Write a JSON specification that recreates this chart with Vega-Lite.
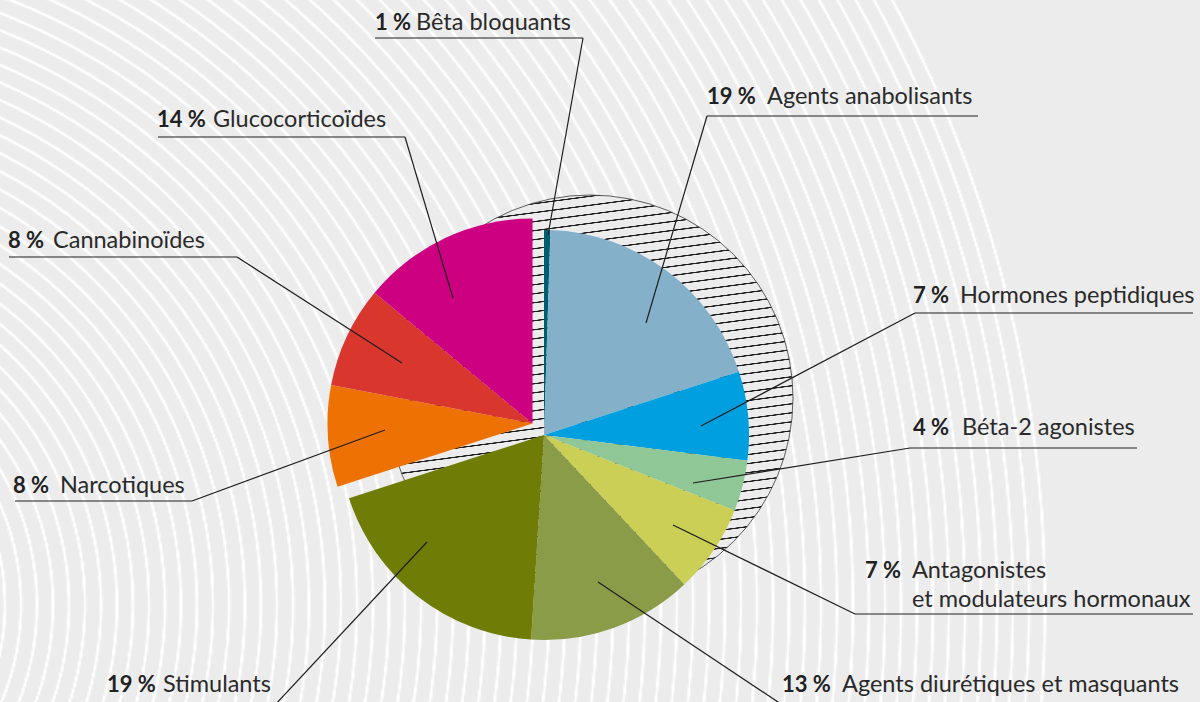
{
  "$schema": "https://vega.github.io/schema/vega-lite/v6.json",
  "width": 1200,
  "height": 702,
  "autosize": "none",
  "padding": 0,
  "background": "#ececec",
  "config": {"view": {"stroke": null}},
  "datasets": {
    "shares": [
      {"category": "Bêta bloquants", "share": 0.5},
      {"category": "Agents anabolisants", "share": 19.5},
      {"category": "Hormones peptidiques", "share": 7},
      {"category": "Béta-2 agonistes", "share": 4},
      {"category": "Antagonistes et modulateurs hormonaux", "share": 7},
      {"category": "Agents diurétiques et masquants", "share": 13},
      {"category": "Stimulants", "share": 19},
      {"category": "Narcotiques", "share": 8},
      {"category": "Cannabinoïdes", "share": 8},
      {"category": "Glucocorticoïdes", "share": 14}
    ],
    "callouts": [
      {"pct": "1 %", "name": "Bêta bloquants", "nx": -169, "tx": -128, "ty": 405, "ux1": -169, "ux2": 39, "uy": 397, "lx1": 39, "ly1": 397, "lx2": 4, "ly2": 200},
      {"pct": "19 %", "name": "Agents anabolisants", "nx": 163, "tx": 223, "ty": 331, "ux1": 163, "ux2": 434, "uy": 319, "lx1": 163, "ly1": 319, "lx2": 102, "ly2": 112},
      {"pct": "14 %", "name": "Glucocorticoïdes", "nx": -387, "tx": -331, "ty": 308, "ux1": -386, "ux2": -139, "uy": 298, "lx1": -139, "ly1": 298, "lx2": -91, "ly2": 137},
      {"pct": "8 %", "name": "Cannabinoïdes", "nx": -536, "tx": -491, "ty": 187, "ux1": -535, "ux2": -307, "uy": 178, "lx1": -307, "ly1": 178, "lx2": -142, "ly2": 72},
      {"pct": "8 %", "name": "Narcotiques", "nx": -531, "tx": -484, "ty": -58, "ux1": -529, "ux2": -352, "uy": -66, "lx1": -352, "ly1": -66, "lx2": -159, "ly2": 5},
      {"pct": "19 %", "name": "Stimulants", "nx": -437, "tx": -381, "ty": -257, "ux1": -437, "ux2": -270, "uy": -271, "lx1": -270, "ly1": -271, "lx2": -117, "ly2": -107},
      {"pct": "13 %", "name": "Agents diurétiques et masquants", "nx": 238, "tx": 298, "ty": -257, "ux1": 240, "ux2": 633, "uy": -271, "lx1": 240, "ly1": -271, "lx2": 54, "ly2": -147},
      {"pct": "7 %", "name": "Antagonistes", "name2": "et modulateurs hormonaux", "ty2": -172, "nx": 321, "tx": 368, "ty": -143, "ux1": 311, "ux2": 649, "uy": -179, "lx1": 311, "ly1": -179, "lx2": 129, "ly2": -90},
      {"pct": "4 %", "name": "Béta-2 agonistes", "nx": 369, "tx": 418, "ty": 0, "ux1": 366, "ux2": 593, "uy": -13, "lx1": 366, "ly1": -13, "lx2": 149, "ly2": -48},
      {"pct": "7 %", "name": "Hormones peptidiques", "nx": 369, "tx": 416, "ty": 132, "ux1": 371, "ux2": 649, "uy": 122, "lx1": 371, "ly1": 122, "lx2": 157, "ly2": 9}
    ]
  },
  "layer": [
    {
      "data": {"values": [{}]},
      "mark": {
        "type": "arc", "outerRadius": 1600, "theta": 0, "theta2": 6.2832, "clip": true,
        "fill": {
          "gradient": "radial", "x1": 0.5, "y1": 0.5, "r1": 0, "x2": 0.5, "y2": 0.5, "r2": 0.5,
          "stops": [
            {"offset":0,"color":"#ececec"},
            {"offset":0.1458,"color":"#ececec"},{"offset":0.1463,"color":"#fff"},{"offset":0.1474,"color":"#fff"},{"offset":0.1479,"color":"#ececec"},
            {"offset":0.1558,"color":"#ececec"},{"offset":0.1563,"color":"#fff"},{"offset":0.1574,"color":"#fff"},{"offset":0.1579,"color":"#ececec"},
            {"offset":0.1658,"color":"#ececec"},{"offset":0.1663,"color":"#fff"},{"offset":0.1674,"color":"#fff"},{"offset":0.1679,"color":"#ececec"},
            {"offset":0.1758,"color":"#ececec"},{"offset":0.1763,"color":"#fff"},{"offset":0.1774,"color":"#fff"},{"offset":0.1779,"color":"#ececec"},
            {"offset":0.1858,"color":"#ececec"},{"offset":0.1863,"color":"#fff"},{"offset":0.1874,"color":"#fff"},{"offset":0.1879,"color":"#ececec"},
            {"offset":0.1958,"color":"#ececec"},{"offset":0.1963,"color":"#fff"},{"offset":0.1974,"color":"#fff"},{"offset":0.1979,"color":"#ececec"},
            {"offset":0.2058,"color":"#ececec"},{"offset":0.2063,"color":"#fff"},{"offset":0.2074,"color":"#fff"},{"offset":0.2079,"color":"#ececec"},
            {"offset":0.2158,"color":"#ececec"},{"offset":0.2163,"color":"#fff"},{"offset":0.2174,"color":"#fff"},{"offset":0.2179,"color":"#ececec"},
            {"offset":0.2258,"color":"#ececec"},{"offset":0.2263,"color":"#fff"},{"offset":0.2274,"color":"#fff"},{"offset":0.2279,"color":"#ececec"},
            {"offset":0.2358,"color":"#ececec"},{"offset":0.2363,"color":"#fff"},{"offset":0.2374,"color":"#fff"},{"offset":0.2379,"color":"#ececec"},
            {"offset":0.2458,"color":"#ececec"},{"offset":0.2463,"color":"#fff"},{"offset":0.2474,"color":"#fff"},{"offset":0.2479,"color":"#ececec"},
            {"offset":0.2558,"color":"#ececec"},{"offset":0.2563,"color":"#fff"},{"offset":0.2574,"color":"#fff"},{"offset":0.2579,"color":"#ececec"},
            {"offset":0.2658,"color":"#ececec"},{"offset":0.2663,"color":"#fff"},{"offset":0.2674,"color":"#fff"},{"offset":0.2679,"color":"#ececec"},
            {"offset":0.2758,"color":"#ececec"},{"offset":0.2763,"color":"#fff"},{"offset":0.2774,"color":"#fff"},{"offset":0.2779,"color":"#ececec"},
            {"offset":0.2858,"color":"#ececec"},{"offset":0.2863,"color":"#fff"},{"offset":0.2874,"color":"#fff"},{"offset":0.2879,"color":"#ececec"},
            {"offset":0.2958,"color":"#ececec"},{"offset":0.2963,"color":"#fff"},{"offset":0.2974,"color":"#fff"},{"offset":0.2979,"color":"#ececec"},
            {"offset":0.3058,"color":"#ececec"},{"offset":0.3063,"color":"#fff"},{"offset":0.3074,"color":"#fff"},{"offset":0.3079,"color":"#ececec"},
            {"offset":0.3158,"color":"#ececec"},{"offset":0.3163,"color":"#fff"},{"offset":0.3174,"color":"#fff"},{"offset":0.3179,"color":"#ececec"},
            {"offset":0.3258,"color":"#ececec"},{"offset":0.3263,"color":"#fff"},{"offset":0.3274,"color":"#fff"},{"offset":0.3279,"color":"#ececec"},
            {"offset":0.3358,"color":"#ececec"},{"offset":0.3363,"color":"#fff"},{"offset":0.3374,"color":"#fff"},{"offset":0.3379,"color":"#ececec"},
            {"offset":0.3458,"color":"#ececec"},{"offset":0.3463,"color":"#fff"},{"offset":0.3474,"color":"#fff"},{"offset":0.3479,"color":"#ececec"},
            {"offset":0.3558,"color":"#ececec"},{"offset":0.3563,"color":"#fff"},{"offset":0.3574,"color":"#fff"},{"offset":0.3579,"color":"#ececec"},
            {"offset":0.3658,"color":"#ececec"},{"offset":0.3663,"color":"#fff"},{"offset":0.3674,"color":"#fff"},{"offset":0.3679,"color":"#ececec"},
            {"offset":0.3758,"color":"#ececec"},{"offset":0.3763,"color":"#fff"},{"offset":0.3774,"color":"#fff"},{"offset":0.3779,"color":"#ececec"},
            {"offset":0.3858,"color":"#ececec"},{"offset":0.3863,"color":"#fff"},{"offset":0.3874,"color":"#fff"},{"offset":0.3879,"color":"#ececec"},
            {"offset":0.3958,"color":"#ececec"},{"offset":0.3963,"color":"#fff"},{"offset":0.3974,"color":"#fff"},{"offset":0.3979,"color":"#ececec"},
            {"offset":0.4058,"color":"#ececec"},{"offset":0.4063,"color":"#fff"},{"offset":0.4074,"color":"#fff"},{"offset":0.4079,"color":"#ececec"},
            {"offset":0.4158,"color":"#ececec"},{"offset":0.4163,"color":"#fff"},{"offset":0.4174,"color":"#fff"},{"offset":0.4179,"color":"#ececec"},
            {"offset":0.4258,"color":"#ececec"},{"offset":0.4263,"color":"#fff"},{"offset":0.4274,"color":"#fff"},{"offset":0.4279,"color":"#ececec"},
            {"offset":0.4358,"color":"#ececec"},{"offset":0.4363,"color":"#fff"},{"offset":0.4374,"color":"#fff"},{"offset":0.4379,"color":"#ececec"},
            {"offset":0.4458,"color":"#ececec"},{"offset":0.4463,"color":"#fff"},{"offset":0.4474,"color":"#fff"},{"offset":0.4479,"color":"#ececec"},
            {"offset":0.4558,"color":"#ececec"},{"offset":0.4563,"color":"#fff"},{"offset":0.4574,"color":"#fff"},{"offset":0.4579,"color":"#ececec"},
            {"offset":0.4658,"color":"#ececec"},{"offset":0.4663,"color":"#fff"},{"offset":0.4674,"color":"#fff"},{"offset":0.4679,"color":"#ececec"},
            {"offset":0.4758,"color":"#ececec"},{"offset":0.4763,"color":"#fff"},{"offset":0.4774,"color":"#fff"},{"offset":0.4779,"color":"#ececec"},
            {"offset":0.4858,"color":"#ececec"},{"offset":0.4863,"color":"#fff"},{"offset":0.4874,"color":"#fff"},{"offset":0.4879,"color":"#ececec"},
            {"offset":0.4958,"color":"#ececec"},{"offset":0.4963,"color":"#fff"},{"offset":0.4974,"color":"#fff"},{"offset":0.4979,"color":"#ececec"},
            {"offset":0.5058,"color":"#ececec"},{"offset":0.5063,"color":"#fff"},{"offset":0.5074,"color":"#fff"},{"offset":0.5079,"color":"#ececec"},
            {"offset":0.5158,"color":"#ececec"},{"offset":0.5163,"color":"#fff"},{"offset":0.5174,"color":"#fff"},{"offset":0.5179,"color":"#ececec"},
            {"offset":0.5258,"color":"#ececec"},{"offset":0.5263,"color":"#fff"},{"offset":0.5274,"color":"#fff"},{"offset":0.5279,"color":"#ececec"},
            {"offset":0.5358,"color":"#ececec"},{"offset":0.5363,"color":"#fff"},{"offset":0.5374,"color":"#fff"},{"offset":0.5379,"color":"#ececec"},
            {"offset":0.5458,"color":"#ececec"},{"offset":0.5463,"color":"#fff"},{"offset":0.5474,"color":"#fff"},{"offset":0.5479,"color":"#ececec"},
            {"offset":0.5558,"color":"#ececec"},{"offset":0.5563,"color":"#fff"},{"offset":0.5574,"color":"#fff"},{"offset":0.5579,"color":"#ececec"},
            {"offset":0.5658,"color":"#ececec"},{"offset":0.5663,"color":"#fff"},{"offset":0.5674,"color":"#fff"},{"offset":0.5679,"color":"#ececec"},
            {"offset":0.5758,"color":"#ececec"},{"offset":0.5763,"color":"#fff"},{"offset":0.5774,"color":"#fff"},{"offset":0.5779,"color":"#ececec"},
            {"offset":0.5858,"color":"#ececec"},{"offset":0.5863,"color":"#fff"},{"offset":0.5874,"color":"#fff"},{"offset":0.5879,"color":"#ececec"},
            {"offset":0.5958,"color":"#ececec"},{"offset":0.5963,"color":"#fff"},{"offset":0.5974,"color":"#fff"},{"offset":0.5979,"color":"#ececec"},
            {"offset":0.6058,"color":"#ececec"},{"offset":0.6063,"color":"#fff"},{"offset":0.6074,"color":"#fff"},{"offset":0.6079,"color":"#ececec"},
            {"offset":0.6158,"color":"#ececec"},{"offset":0.6163,"color":"#fff"},{"offset":0.6174,"color":"#fff"},{"offset":0.6179,"color":"#ececec"},
            {"offset":0.6258,"color":"#ececec"},{"offset":0.6263,"color":"#fff"},{"offset":0.6274,"color":"#fff"},{"offset":0.6279,"color":"#ececec"},
            {"offset":0.6358,"color":"#ececec"},{"offset":0.6363,"color":"#fff"},{"offset":0.6374,"color":"#fff"},{"offset":0.6379,"color":"#ececec"},
            {"offset":0.6458,"color":"#ececec"},{"offset":0.6463,"color":"#fff"},{"offset":0.6474,"color":"#fff"},{"offset":0.6479,"color":"#ececec"},
            {"offset":0.6558,"color":"#ececec"},{"offset":0.6563,"color":"#fff"},{"offset":0.6574,"color":"#fff"},{"offset":0.6579,"color":"#ececec"},
            {"offset":0.6658,"color":"#ececec"},{"offset":0.6663,"color":"#fff"},{"offset":0.6674,"color":"#fff"},{"offset":0.6679,"color":"#ececec"},
            {"offset":0.6758,"color":"#ececec"},{"offset":0.6763,"color":"#fff"},{"offset":0.6774,"color":"#fff"},{"offset":0.6779,"color":"#ececec"},
            {"offset":0.6858,"color":"#ececec"},{"offset":0.6863,"color":"#fff"},{"offset":0.6874,"color":"#fff"},{"offset":0.6879,"color":"#ececec"},
            {"offset":0.6958,"color":"#ececec"},{"offset":0.6963,"color":"#fff"},{"offset":0.6974,"color":"#fff"},{"offset":0.6979,"color":"#ececec"},
            {"offset":0.7058,"color":"#ececec"},{"offset":0.7063,"color":"#fff"},{"offset":0.7074,"color":"#fff"},{"offset":0.7079,"color":"#ececec"},
            {"offset":0.7158,"color":"#ececec"},{"offset":0.7163,"color":"#fff"},{"offset":0.7174,"color":"#fff"},{"offset":0.7179,"color":"#ececec"},
            {"offset":0.7258,"color":"#ececec"},{"offset":0.7263,"color":"#fff"},{"offset":0.7274,"color":"#fff"},{"offset":0.7279,"color":"#ececec"},
            {"offset":0.7358,"color":"#ececec"},{"offset":0.7363,"color":"#fff"},{"offset":0.7374,"color":"#fff"},{"offset":0.7379,"color":"#ececec"},
            {"offset":0.7458,"color":"#ececec"},{"offset":0.7463,"color":"#fff"},{"offset":0.7474,"color":"#fff"},{"offset":0.7479,"color":"#ececec"},
            {"offset":0.7558,"color":"#ececec"},{"offset":0.7563,"color":"#fff"},{"offset":0.7574,"color":"#fff"},{"offset":0.7579,"color":"#ececec"},
            {"offset":0.7658,"color":"#ececec"},{"offset":0.7663,"color":"#fff"},{"offset":0.7674,"color":"#fff"},{"offset":0.7679,"color":"#ececec"},
            {"offset":0.7758,"color":"#ececec"},{"offset":0.7763,"color":"#fff"},{"offset":0.7774,"color":"#fff"},{"offset":0.7779,"color":"#ececec"},
            {"offset":0.7858,"color":"#ececec"},{"offset":0.7863,"color":"#fff"},{"offset":0.7874,"color":"#fff"},{"offset":0.7879,"color":"#ececec"},
            {"offset":0.7958,"color":"#ececec"},{"offset":0.7963,"color":"#fff"},{"offset":0.7974,"color":"#fff"},{"offset":0.7979,"color":"#ececec"},
            {"offset":1,"color":"#ececec"}
          ]
        }
      },
      "encoding": {
        "x": {"datum": -774, "type": "quantitative", "scale": {"domain": [-544, 656], "nice": false, "zero": false}, "axis": null},
        "y": {"datum": -170, "type": "quantitative", "scale": {"domain": [-267, 435], "nice": false, "zero": false}, "axis": null}
      }
    },
    {
      "data": {"values": [{}]},
      "mark": {
        "type": "arc", "outerRadius": 203, "theta": 0, "theta2": 6.2832,
        "stroke": "#3a3a3a", "strokeWidth": 0.8,
        "fill": {
          "gradient": "linear", "x1": 0.428, "y1": -0.045, "x2": 0.572, "y2": 1.045,
          "stops": [
            {"offset":0,"color":"#ececec"},
            {"offset":0.01,"color":"#ececec"},{"offset":0.011,"color":"#1f1f1f"},{"offset":0.013,"color":"#1f1f1f"},{"offset":0.014,"color":"#ececec"},
            {"offset":0.03,"color":"#ececec"},{"offset":0.031,"color":"#1f1f1f"},{"offset":0.033,"color":"#1f1f1f"},{"offset":0.034,"color":"#ececec"},
            {"offset":0.05,"color":"#ececec"},{"offset":0.051,"color":"#1f1f1f"},{"offset":0.053,"color":"#1f1f1f"},{"offset":0.054,"color":"#ececec"},
            {"offset":0.07,"color":"#ececec"},{"offset":0.071,"color":"#1f1f1f"},{"offset":0.073,"color":"#1f1f1f"},{"offset":0.074,"color":"#ececec"},
            {"offset":0.09,"color":"#ececec"},{"offset":0.091,"color":"#1f1f1f"},{"offset":0.093,"color":"#1f1f1f"},{"offset":0.094,"color":"#ececec"},
            {"offset":0.11,"color":"#ececec"},{"offset":0.111,"color":"#1f1f1f"},{"offset":0.113,"color":"#1f1f1f"},{"offset":0.114,"color":"#ececec"},
            {"offset":0.13,"color":"#ececec"},{"offset":0.131,"color":"#1f1f1f"},{"offset":0.133,"color":"#1f1f1f"},{"offset":0.134,"color":"#ececec"},
            {"offset":0.15,"color":"#ececec"},{"offset":0.151,"color":"#1f1f1f"},{"offset":0.153,"color":"#1f1f1f"},{"offset":0.154,"color":"#ececec"},
            {"offset":0.17,"color":"#ececec"},{"offset":0.171,"color":"#1f1f1f"},{"offset":0.173,"color":"#1f1f1f"},{"offset":0.174,"color":"#ececec"},
            {"offset":0.19,"color":"#ececec"},{"offset":0.191,"color":"#1f1f1f"},{"offset":0.193,"color":"#1f1f1f"},{"offset":0.194,"color":"#ececec"},
            {"offset":0.21,"color":"#ececec"},{"offset":0.211,"color":"#1f1f1f"},{"offset":0.213,"color":"#1f1f1f"},{"offset":0.214,"color":"#ececec"},
            {"offset":0.23,"color":"#ececec"},{"offset":0.231,"color":"#1f1f1f"},{"offset":0.233,"color":"#1f1f1f"},{"offset":0.234,"color":"#ececec"},
            {"offset":0.25,"color":"#ececec"},{"offset":0.251,"color":"#1f1f1f"},{"offset":0.253,"color":"#1f1f1f"},{"offset":0.254,"color":"#ececec"},
            {"offset":0.27,"color":"#ececec"},{"offset":0.271,"color":"#1f1f1f"},{"offset":0.273,"color":"#1f1f1f"},{"offset":0.274,"color":"#ececec"},
            {"offset":0.29,"color":"#ececec"},{"offset":0.291,"color":"#1f1f1f"},{"offset":0.293,"color":"#1f1f1f"},{"offset":0.294,"color":"#ececec"},
            {"offset":0.31,"color":"#ececec"},{"offset":0.311,"color":"#1f1f1f"},{"offset":0.313,"color":"#1f1f1f"},{"offset":0.314,"color":"#ececec"},
            {"offset":0.33,"color":"#ececec"},{"offset":0.331,"color":"#1f1f1f"},{"offset":0.333,"color":"#1f1f1f"},{"offset":0.334,"color":"#ececec"},
            {"offset":0.35,"color":"#ececec"},{"offset":0.351,"color":"#1f1f1f"},{"offset":0.353,"color":"#1f1f1f"},{"offset":0.354,"color":"#ececec"},
            {"offset":0.37,"color":"#ececec"},{"offset":0.371,"color":"#1f1f1f"},{"offset":0.373,"color":"#1f1f1f"},{"offset":0.374,"color":"#ececec"},
            {"offset":0.39,"color":"#ececec"},{"offset":0.391,"color":"#1f1f1f"},{"offset":0.393,"color":"#1f1f1f"},{"offset":0.394,"color":"#ececec"},
            {"offset":0.41,"color":"#ececec"},{"offset":0.411,"color":"#1f1f1f"},{"offset":0.413,"color":"#1f1f1f"},{"offset":0.414,"color":"#ececec"},
            {"offset":0.43,"color":"#ececec"},{"offset":0.431,"color":"#1f1f1f"},{"offset":0.433,"color":"#1f1f1f"},{"offset":0.434,"color":"#ececec"},
            {"offset":0.45,"color":"#ececec"},{"offset":0.451,"color":"#1f1f1f"},{"offset":0.453,"color":"#1f1f1f"},{"offset":0.454,"color":"#ececec"},
            {"offset":0.47,"color":"#ececec"},{"offset":0.471,"color":"#1f1f1f"},{"offset":0.473,"color":"#1f1f1f"},{"offset":0.474,"color":"#ececec"},
            {"offset":0.49,"color":"#ececec"},{"offset":0.491,"color":"#1f1f1f"},{"offset":0.493,"color":"#1f1f1f"},{"offset":0.494,"color":"#ececec"},
            {"offset":0.51,"color":"#ececec"},{"offset":0.511,"color":"#1f1f1f"},{"offset":0.513,"color":"#1f1f1f"},{"offset":0.514,"color":"#ececec"},
            {"offset":0.53,"color":"#ececec"},{"offset":0.531,"color":"#1f1f1f"},{"offset":0.533,"color":"#1f1f1f"},{"offset":0.534,"color":"#ececec"},
            {"offset":0.55,"color":"#ececec"},{"offset":0.551,"color":"#1f1f1f"},{"offset":0.553,"color":"#1f1f1f"},{"offset":0.554,"color":"#ececec"},
            {"offset":0.57,"color":"#ececec"},{"offset":0.571,"color":"#1f1f1f"},{"offset":0.573,"color":"#1f1f1f"},{"offset":0.574,"color":"#ececec"},
            {"offset":0.59,"color":"#ececec"},{"offset":0.591,"color":"#1f1f1f"},{"offset":0.593,"color":"#1f1f1f"},{"offset":0.594,"color":"#ececec"},
            {"offset":0.61,"color":"#ececec"},{"offset":0.611,"color":"#1f1f1f"},{"offset":0.613,"color":"#1f1f1f"},{"offset":0.614,"color":"#ececec"},
            {"offset":0.63,"color":"#ececec"},{"offset":0.631,"color":"#1f1f1f"},{"offset":0.633,"color":"#1f1f1f"},{"offset":0.634,"color":"#ececec"},
            {"offset":0.65,"color":"#ececec"},{"offset":0.651,"color":"#1f1f1f"},{"offset":0.653,"color":"#1f1f1f"},{"offset":0.654,"color":"#ececec"},
            {"offset":0.67,"color":"#ececec"},{"offset":0.671,"color":"#1f1f1f"},{"offset":0.673,"color":"#1f1f1f"},{"offset":0.674,"color":"#ececec"},
            {"offset":0.69,"color":"#ececec"},{"offset":0.691,"color":"#1f1f1f"},{"offset":0.693,"color":"#1f1f1f"},{"offset":0.694,"color":"#ececec"},
            {"offset":0.71,"color":"#ececec"},{"offset":0.711,"color":"#1f1f1f"},{"offset":0.713,"color":"#1f1f1f"},{"offset":0.714,"color":"#ececec"},
            {"offset":0.73,"color":"#ececec"},{"offset":0.731,"color":"#1f1f1f"},{"offset":0.733,"color":"#1f1f1f"},{"offset":0.734,"color":"#ececec"},
            {"offset":0.75,"color":"#ececec"},{"offset":0.751,"color":"#1f1f1f"},{"offset":0.753,"color":"#1f1f1f"},{"offset":0.754,"color":"#ececec"},
            {"offset":0.77,"color":"#ececec"},{"offset":0.771,"color":"#1f1f1f"},{"offset":0.773,"color":"#1f1f1f"},{"offset":0.774,"color":"#ececec"},
            {"offset":0.79,"color":"#ececec"},{"offset":0.791,"color":"#1f1f1f"},{"offset":0.793,"color":"#1f1f1f"},{"offset":0.794,"color":"#ececec"},
            {"offset":0.81,"color":"#ececec"},{"offset":0.811,"color":"#1f1f1f"},{"offset":0.813,"color":"#1f1f1f"},{"offset":0.814,"color":"#ececec"},
            {"offset":0.83,"color":"#ececec"},{"offset":0.831,"color":"#1f1f1f"},{"offset":0.833,"color":"#1f1f1f"},{"offset":0.834,"color":"#ececec"},
            {"offset":0.85,"color":"#ececec"},{"offset":0.851,"color":"#1f1f1f"},{"offset":0.853,"color":"#1f1f1f"},{"offset":0.854,"color":"#ececec"},
            {"offset":0.87,"color":"#ececec"},{"offset":0.871,"color":"#1f1f1f"},{"offset":0.873,"color":"#1f1f1f"},{"offset":0.874,"color":"#ececec"},
            {"offset":0.89,"color":"#ececec"},{"offset":0.891,"color":"#1f1f1f"},{"offset":0.893,"color":"#1f1f1f"},{"offset":0.894,"color":"#ececec"},
            {"offset":0.91,"color":"#ececec"},{"offset":0.911,"color":"#1f1f1f"},{"offset":0.913,"color":"#1f1f1f"},{"offset":0.914,"color":"#ececec"},
            {"offset":0.93,"color":"#ececec"},{"offset":0.931,"color":"#1f1f1f"},{"offset":0.933,"color":"#1f1f1f"},{"offset":0.934,"color":"#ececec"},
            {"offset":0.95,"color":"#ececec"},{"offset":0.951,"color":"#1f1f1f"},{"offset":0.953,"color":"#1f1f1f"},{"offset":0.954,"color":"#ececec"},
            {"offset":0.97,"color":"#ececec"},{"offset":0.971,"color":"#1f1f1f"},{"offset":0.973,"color":"#1f1f1f"},{"offset":0.974,"color":"#ececec"},
            {"offset":0.99,"color":"#ececec"},{"offset":0.991,"color":"#1f1f1f"},{"offset":0.993,"color":"#1f1f1f"},{"offset":0.994,"color":"#ececec"},
            {"offset":1,"color":"#ececec"}
          ]
        }
      },
      "encoding": {
        "x": {"datum": 46, "type": "quantitative", "scale": {"domain": [-544, 656], "nice": false, "zero": false}, "axis": null},
        "y": {"datum": 37, "type": "quantitative", "scale": {"domain": [-267, 435], "nice": false, "zero": false}, "axis": null}
      }
    },
    {
      "data": {"name": "shares"},
      "transform": [
        {"stack": "share", "groupby": [], "as": ["t0", "t1"]},
        {"filter": {"not": {"field": "category", "oneOf": ["Narcotiques", "Cannabinoïdes", "Glucocorticoïdes"]}}}
      ],
      "mark": {"type": "arc", "outerRadius": 205, "stroke": null},
      "encoding": {
        "x": {"datum": 0, "type": "quantitative", "scale": {"domain": [-544, 656], "nice": false, "zero": false}, "axis": null},
        "y": {"datum": 0, "type": "quantitative", "scale": {"domain": [-267, 435], "nice": false, "zero": false}, "axis": null},
        "theta": {"field": "t0", "type": "quantitative", "scale": {"domain": [0, 100]}},
        "theta2": {"field": "t1"},
        "color": {
          "field": "category", "type": "nominal", "legend": null,
          "scale": {
            "domain": ["Bêta bloquants", "Agents anabolisants", "Hormones peptidiques", "Béta-2 agonistes", "Antagonistes et modulateurs hormonaux", "Agents diurétiques et masquants", "Stimulants", "Narcotiques", "Cannabinoïdes", "Glucocorticoïdes"],
            "range": ["#005f6e", "#85b0ca", "#009fe0", "#8fc797", "#cccf55", "#8a9c48", "#6f7d07", "#ee7203", "#d9372d", "#cc0080"]
          }
        }
      }
    },
    {
      "data": {"name": "shares"},
      "transform": [
        {"stack": "share", "groupby": [], "as": ["t0", "t1"]},
        {"filter": {"field": "category", "oneOf": ["Narcotiques", "Cannabinoïdes", "Glucocorticoïdes"]}}
      ],
      "mark": {"type": "arc", "outerRadius": 205, "stroke": null},
      "encoding": {
        "x": {"datum": -11.5, "type": "quantitative", "scale": {"domain": [-544, 656], "nice": false, "zero": false}, "axis": null},
        "y": {"datum": 11.5, "type": "quantitative", "scale": {"domain": [-267, 435], "nice": false, "zero": false}, "axis": null},
        "theta": {"field": "t0", "type": "quantitative", "scale": {"domain": [0, 100]}},
        "theta2": {"field": "t1"},
        "color": {
          "field": "category", "type": "nominal", "legend": null,
          "scale": {
            "domain": ["Bêta bloquants", "Agents anabolisants", "Hormones peptidiques", "Béta-2 agonistes", "Antagonistes et modulateurs hormonaux", "Agents diurétiques et masquants", "Stimulants", "Narcotiques", "Cannabinoïdes", "Glucocorticoïdes"],
            "range": ["#005f6e", "#85b0ca", "#009fe0", "#8fc797", "#cccf55", "#8a9c48", "#6f7d07", "#ee7203", "#d9372d", "#cc0080"]
          }
        }
      }
    },
    {
      "data": {"name": "callouts"},
      "mark": {"type": "rule", "color": "#1e1e1e", "strokeWidth": 1.2, "clip": true},
      "encoding": {
        "x": {"field": "lx1", "type": "quantitative", "scale": {"domain": [-544, 656], "nice": false, "zero": false}, "axis": null},
        "y": {"field": "ly1", "type": "quantitative", "scale": {"domain": [-267, 435], "nice": false, "zero": false}, "axis": null},
        "x2": {"field": "lx2"},
        "y2": {"field": "ly2"}
      }
    },
    {
      "data": {"name": "callouts"},
      "mark": {"type": "rule", "color": "#1e1e1e", "strokeWidth": 1.2, "clip": true},
      "encoding": {
        "x": {"field": "ux1", "type": "quantitative", "scale": {"domain": [-544, 656], "nice": false, "zero": false}, "axis": null},
        "y": {"field": "uy", "type": "quantitative", "scale": {"domain": [-267, 435], "nice": false, "zero": false}, "axis": null},
        "x2": {"field": "ux2"}
      }
    },
    {
      "data": {"name": "callouts"},
      "mark": {"type": "text", "align": "left", "baseline": "alphabetic", "font": "Lato", "fontSize": 22, "fontWeight": "bold", "color": "#222222"},
      "encoding": {
        "x": {"field": "nx", "type": "quantitative", "scale": {"domain": [-544, 656], "nice": false, "zero": false}, "axis": null},
        "y": {"field": "ty", "type": "quantitative", "scale": {"domain": [-267, 435], "nice": false, "zero": false}, "axis": null},
        "text": {"field": "pct"}
      }
    },
    {
      "data": {"name": "callouts"},
      "mark": {"type": "text", "align": "left", "baseline": "alphabetic", "font": "Lato", "fontSize": 23.5, "color": "#2a2a2a"},
      "encoding": {
        "x": {"field": "tx", "type": "quantitative", "scale": {"domain": [-544, 656], "nice": false, "zero": false}, "axis": null},
        "y": {"field": "ty", "type": "quantitative", "scale": {"domain": [-267, 435], "nice": false, "zero": false}, "axis": null},
        "text": {"field": "name"}
      }
    },
    {
      "data": {"name": "callouts"},
      "transform": [{"filter": "isValid(datum.name2)"}],
      "mark": {"type": "text", "align": "left", "baseline": "alphabetic", "font": "Lato", "fontSize": 23.5, "color": "#2a2a2a"},
      "encoding": {
        "x": {"field": "tx", "type": "quantitative", "scale": {"domain": [-544, 656], "nice": false, "zero": false}, "axis": null},
        "y": {"field": "ty2", "type": "quantitative", "scale": {"domain": [-267, 435], "nice": false, "zero": false}, "axis": null},
        "text": {"field": "name2"}
      }
    }
  ]
}
